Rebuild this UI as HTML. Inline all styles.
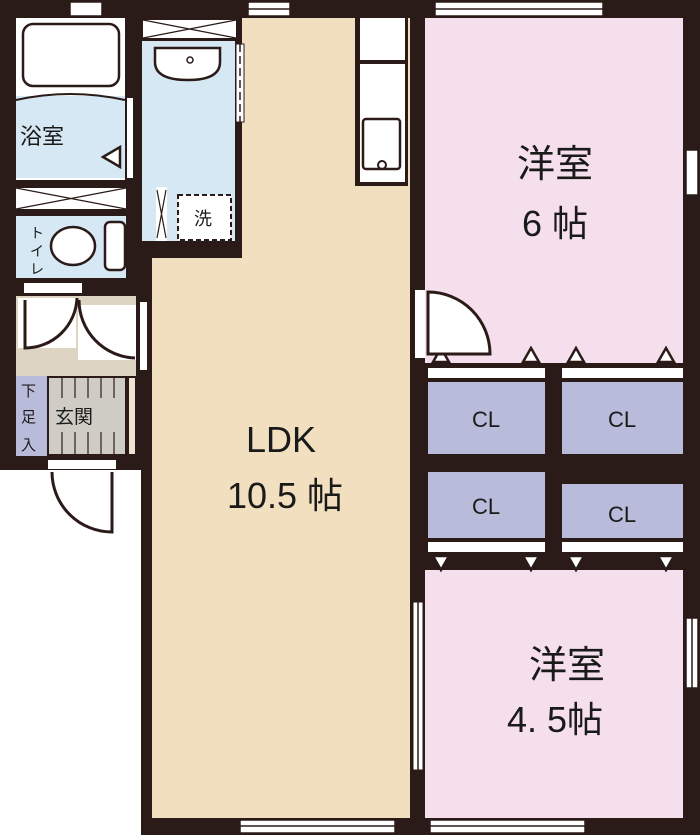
<!DOCTYPE html>
<html><head><meta charset="utf-8"><style>
html,body{margin:0;padding:0;background:#fff;width:700px;height:835px;overflow:hidden}
svg{display:block}
text{font-family:"Liberation Sans","Noto Sans CJK JP",sans-serif;fill:#1a1a1a}
</style></head><body>
<svg width="700" height="835" viewBox="0 0 700 835" xmlns="http://www.w3.org/2000/svg">
<rect width="700" height="835" fill="#fff"/>
<rect x="0" y="0" width="700" height="470" fill="#2b1b18"/>
<rect x="138" y="250" width="562" height="585" fill="#2b1b18"/>
<rect x="152" y="258" width="258" height="560" fill="#f1dfbf"/>
<rect x="242" y="18" width="168" height="240" fill="#f1dfbf"/>
<rect x="355" y="18" width="53" height="168" fill="#2b1b18"/>
<rect x="360" y="18" width="45" height="42" fill="#fff"/>
<rect x="360" y="64" width="45" height="118" fill="#fff"/>
<rect x="363" y="119" width="37" height="50" rx="3" fill="none" stroke="#2b1b18" stroke-width="2.5"/>
<circle cx="382" cy="165" r="4" fill="none" stroke="#2b1b18" stroke-width="2"/>
<rect x="425" y="18" width="258" height="345" fill="#f5dfec"/>
<rect x="425" y="570" width="258" height="248" fill="#f5dfec"/>
<rect x="428" y="368" width="117" height="10" fill="#fff"/>
<rect x="562" y="368" width="121" height="10" fill="#fff"/>
<rect x="428" y="382" width="117" height="72" fill="#b9bbdb"/>
<rect x="562" y="382" width="121" height="72" fill="#b9bbdb"/>
<rect x="428" y="472" width="117" height="66" fill="#b9bbdb"/>
<rect x="562" y="484" width="121" height="54" fill="#b9bbdb"/>
<rect x="428" y="542" width="117" height="10" fill="#fff"/>
<rect x="562" y="542" width="121" height="10" fill="#fff"/>
<g fill="#fff" stroke="#2b1b18" stroke-width="2.5">
<polygon points="433,362 441,348 449,362"/><polygon points="523,362 531,348 539,362"/>
<polygon points="568,362 576,348 584,362"/><polygon points="658,362 666,348 674,362"/>
<polygon points="433,556 441,570 449,556"/><polygon points="523,556 531,570 539,556"/>
<polygon points="568,556 576,570 584,556"/><polygon points="658,556 666,570 674,556"/>
</g>
<rect x="415" y="290" width="10" height="68" fill="#fff"/>
<path d="M428,292 A62,62 0 0 1 490,354 L428,354 Z" fill="#fff" stroke="#2b1b18" stroke-width="3"/>
<rect x="413" y="602" width="10" height="168" fill="#fff" stroke="#2b1b18" stroke-width="1"/>
<line x1="418" y1="602" x2="418" y2="770" stroke="#2b1b18" stroke-width="1.5"/>
<g fill="#fff" stroke="#2b1b18" stroke-width="1.5">
<rect x="248" y="2" width="42" height="14"/>
<rect x="435" y="2" width="168" height="14"/>
<rect x="686" y="150" width="12" height="45"/>
<rect x="686" y="618" width="12" height="70"/>
<rect x="240" y="820" width="155" height="13"/>
<rect x="430" y="820" width="155" height="13"/>
<rect x="70" y="2" width="32" height="14"/>
</g>
<line x1="248" y1="9" x2="290" y2="9" stroke="#2b1b18" stroke-width="1.5"/>
<line x1="435" y1="9" x2="603" y2="9" stroke="#2b1b18" stroke-width="1.5"/>
<line x1="240" y1="826" x2="395" y2="826" stroke="#2b1b18" stroke-width="1.5"/>
<line x1="430" y1="826" x2="585" y2="826" stroke="#2b1b18" stroke-width="1.5"/>
<line x1="692" y1="618" x2="692" y2="688" stroke="#2b1b18" stroke-width="1.5"/>
<rect x="16" y="18" width="109" height="162" fill="#fff"/>
<rect x="16" y="96" width="109" height="82" fill="#d5e8f4"/>
<path d="M16,100 Q70,88 125,100" fill="none" stroke="#2b1b18" stroke-width="2"/>
<rect x="23" y="24" width="96" height="62" rx="10" fill="#fff" stroke="#2b1b18" stroke-width="2.5"/>
<rect x="127" y="98" width="6" height="80" fill="#fff"/>
<polygon points="103,157 120,147 120,167" fill="#fff" stroke="#2b1b18" stroke-width="2.5"/>
<text x="20" y="144" font-size="22">浴室</text>
<rect x="16" y="188" width="110" height="21" fill="#fff"/>
<path d="M16,188 L126,209 M16,209 L126,188" stroke="#2b1b18" stroke-width="1.2"/>
<rect x="16" y="216" width="110" height="62" fill="#d5e8f4"/>
<ellipse cx="73" cy="246" rx="22" ry="19" fill="#fff" stroke="#2b1b18" stroke-width="2.5"/>
<rect x="105" y="222" width="20" height="48" rx="5" fill="#fff" stroke="#2b1b18" stroke-width="2.5"/>
<text x="30" y="238" font-size="14">ト</text><text x="30" y="256" font-size="14">イ</text><text x="30" y="274" font-size="14">レ</text>
<rect x="143" y="20" width="93" height="18" fill="#fff"/>
<path d="M143,20 L236,38 M143,38 L236,20" stroke="#2b1b18" stroke-width="1.2"/>
<rect x="142" y="41" width="93" height="200" fill="#d5e8f4"/>
<path d="M155,48 L220,48 L220,62 Q220,80 188,80 Q155,80 155,62 Z" fill="#fff" stroke="#2b1b18" stroke-width="2.5"/>
<circle cx="190" cy="60" r="3" fill="none" stroke="#2b1b18" stroke-width="1.5"/>
<rect x="236" y="44" width="8" height="78" fill="#fff" stroke="#2b1b18" stroke-width="1"/>
<line x1="240" y1="44" x2="240" y2="122" stroke="#2b1b18" stroke-width="1.5" stroke-dasharray="8,4"/>
<rect x="178" y="195" width="53" height="45" fill="#fff" stroke="#2b1b18" stroke-width="2" stroke-dasharray="5,3"/>
<text x="194" y="225" font-size="18">洗</text>
<rect x="156" y="187" width="11" height="54" fill="#fff"/>
<path d="M157,190 L166,238 M166,190 L157,238" stroke="#2b1b18" stroke-width="1.2"/>
<rect x="24" y="283" width="58" height="10" fill="#fff"/>
<rect x="16" y="296" width="120" height="80" fill="#ddd4c2"/>
<rect x="18" y="298" width="58" height="50" fill="#fff"/>
<path d="M25,300 L25,348 A52,52 0 0 0 77,298" fill="none" stroke="#2b1b18" stroke-width="3"/>
<rect x="78" y="305" width="58" height="55" fill="#fff"/>
<path d="M79,300 A58,58 0 0 0 135,358" fill="none" stroke="#2b1b18" stroke-width="3"/>
<rect x="140" y="302" width="7" height="68" fill="#fff"/>
<rect x="16" y="376" width="31" height="80" fill="#b9bbdb"/>
<rect x="49" y="378" width="76" height="76" fill="#cfccc6"/>
<g stroke="#2b1b18" stroke-width="1.2">
<line x1="62" y1="378" x2="62" y2="454"/><line x1="75" y1="378" x2="75" y2="454"/>
<line x1="88" y1="378" x2="88" y2="454"/><line x1="101" y1="378" x2="101" y2="454"/><line x1="114" y1="378" x2="114" y2="454"/>
</g>
<rect x="52" y="398" width="72" height="34" fill="#cfccc6"/>
<rect x="129" y="378" width="6" height="76" fill="#ede4d2"/>
<text x="21" y="396" font-size="15">下</text><text x="21" y="422" font-size="15">足</text><text x="21" y="450" font-size="15">入</text>
<text x="55" y="423" font-size="19">玄関</text>
<rect x="48" y="460" width="68" height="9" fill="#fff"/>
<rect x="136" y="470" width="5" height="365" fill="#fff"/>
<path d="M52,472 A60,60 0 0 0 112,532 L112,472" fill="none" stroke="#2b1b18" stroke-width="3"/>
<text x="281" y="452" font-size="36" text-anchor="middle">LDK</text>
<text x="285" y="508" font-size="36" text-anchor="middle">10.5 帖</text>
<text x="555" y="177" font-size="38" text-anchor="middle">洋室</text>
<text x="555" y="236" font-size="36" text-anchor="middle">6 帖</text>
<text x="567" y="678" font-size="38" text-anchor="middle">洋室</text>
<text x="555" y="732" font-size="36" text-anchor="middle">4. 5帖</text>
<g font-size="22" text-anchor="middle">
<text x="486" y="427">CL</text><text x="622" y="427">CL</text>
<text x="486" y="514">CL</text><text x="622" y="522">CL</text>
</g>
</svg>
</body></html>
